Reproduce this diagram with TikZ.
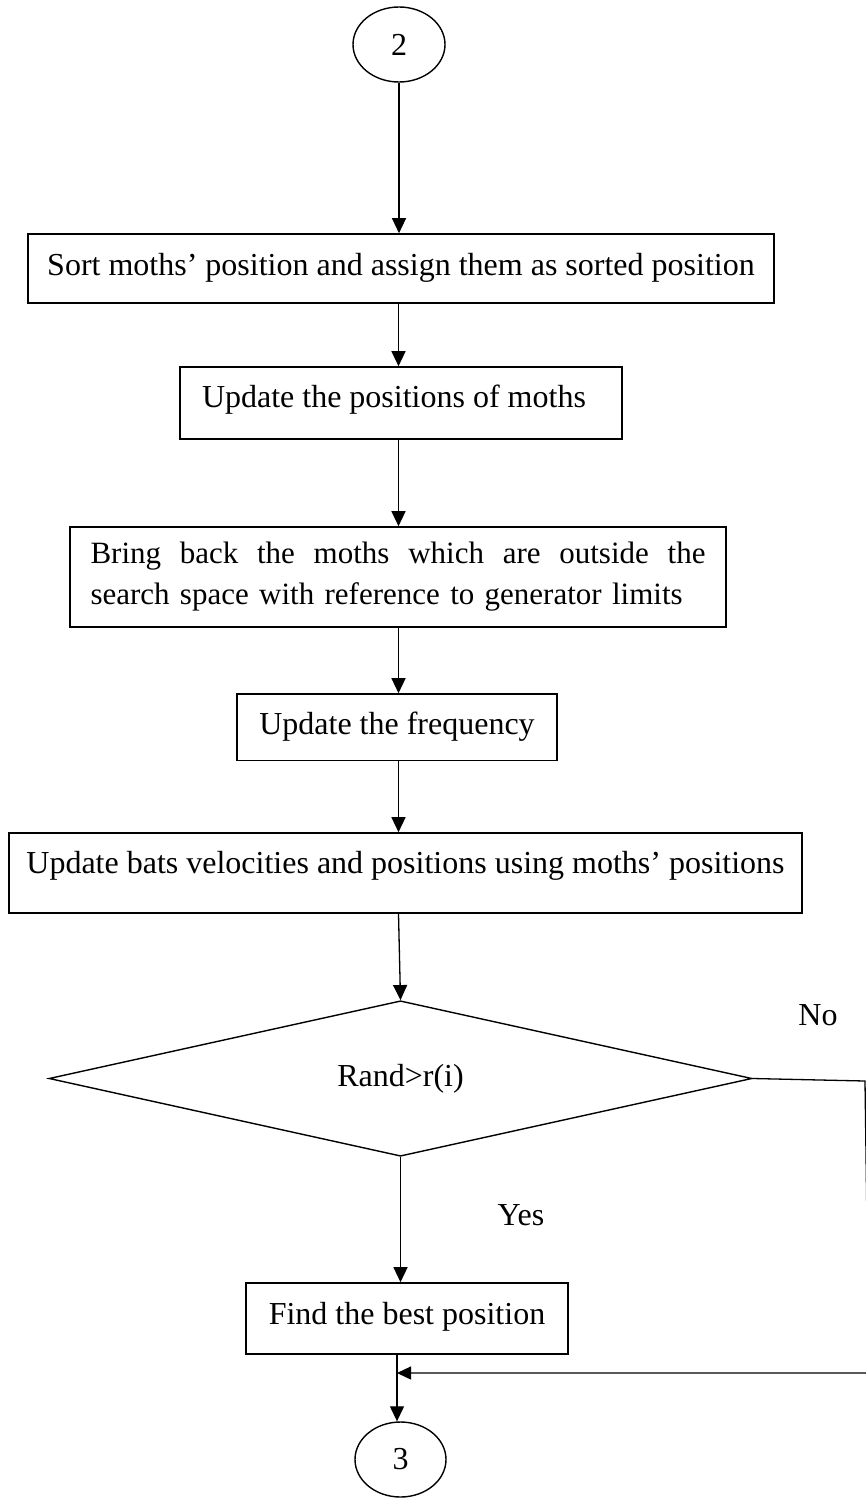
\documentclass[tikz,border=0pt]{standalone}
\usepackage{fontspec}
\setmainfont{Liberation Serif}
\usetikzlibrary{arrows.meta,shapes.geometric}
\begin{document}
\begin{tikzpicture}[x=1pt,y=-1pt,
  every node/.style={font=\fontsize{32}{41}\selectfont},
  box/.style={draw, rectangle, line width=1.6pt, inner sep=0pt},
  term/.style={draw, ellipse, line width=1.4pt, inner sep=0pt,
               minimum width=92pt, minimum height=75pt},
  arr/.style={line width=1.3pt, -{Triangle[length=15pt,width=14pt]}},
  back/.style={line width=1.3pt, -{Triangle[length=14pt,width=13pt]}},
  lbl/.style={inner sep=0pt}]
\useasboundingbox (0,0) rectangle (866,1499);

% connector markers
\coordinate (spine) at (398.5,0);
\coordinate (m)  at (397,1373);
\coordinate (ne) at (865,1081);
\coordinate (se) at (869,1373);

% flow elements
\node[term] (c2) at (399,44.5) {2};
\node[box, minimum width=746pt, text height=41pt, text depth=28pt] (s1) at (401,268.5)
  {Sort moths’ position and assign them as sorted position};
\node[box, minimum width=442pt, text height=40.5pt, text depth=31.5pt] (s2) at (401,403)
  {\makebox[442pt][l]{\hspace{22pt}Update the positions of moths}};
\node[box, text width=615pt, inner xsep=20.5pt, inner ysep=0pt, minimum height=100pt,
      align=left, font=\fontsize{31}{41}\selectfont] (s3) at (398,577)
  {\hbox to 615pt{Bring\hfill back\hfill the\hfill moths\hfill which\hfill are\hfill outside\hfill the}\\
   search space with reference to generator limits};
\node[box, minimum width=320pt, text height=40pt, text depth=26.5pt] (s4) at (397,727.25)
  {Update the frequency};
\node[box, minimum width=793pt, text height=40pt, text depth=40pt] (s5) at (405.5,873)
  {Update bats velocities and positions using moths’ positions};
\node[draw, diamond, line width=1.4pt, inner sep=0pt,
      minimum width=703pt, minimum height=115pt] (d) at (400.5,1078.5) {Rand>r(i)};
\node[box, minimum width=322pt, text height=41pt, text depth=30pt] (s6) at (407,1318.5)
  {Find the best position};
\node[term, minimum width=91pt] (c3) at (400.5,1459.5) {3};

% branch labels
\node[lbl] (no)  at (818,1015) {No};
\node[lbl] (yes) at (521,1215) {Yes};

% connectors
\draw[arr] (c2.south) -- (s1.north -| c2.south);
\draw[arr] (s1.south -| spine) -- (s2.north -| spine);
\draw[arr] (s2.south -| spine) -- (s3.north -| spine);
\draw[arr] (s3.south -| spine) -- (s4.north -| spine);
\draw[arr] (s4.south -| spine) -- (s5.north -| spine);
\draw[arr] (s5.south -| spine) -- (d.north);
\draw[arr] (d.south) -- (s6.north -| d.south);
\draw[arr] (s6.south -| m) -- (c3.north -| m);
\draw[back] (d.east) -- (ne) -- (se) -- (m);
\end{tikzpicture}
\end{document}
